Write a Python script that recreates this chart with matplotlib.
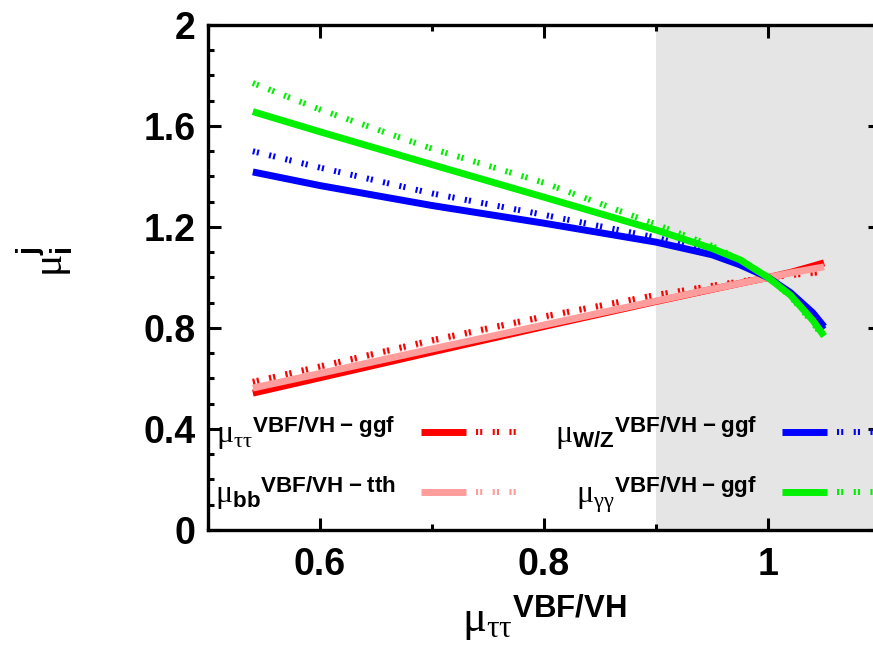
import matplotlib
matplotlib.use("Agg")
import matplotlib.pyplot as plt
from matplotlib.legend_handler import HandlerTuple

# mu ratios vs mu_tautau(VBF/VH)
x = [0.54, 0.6, 0.7, 0.8, 0.9, 0.95, 0.975, 1.0, 1.02, 1.04, 1.05]
tautau_solid = [0.542, 0.603, 0.705, 0.806, 0.905, 0.953, 0.977, 1.0, 1.02, 1.045, 1.058]
tautau_dot = [0.587, 0.648, 0.752, 0.846, 0.931, 0.967, 0.984, 1.0, 1.01, 1.019, 1.023]
bb_solid = [0.562, 0.620, 0.717, 0.812, 0.907, 0.954, 0.977, 1.0, 1.018, 1.034, 1.042]
bb_dot = [0.583, 0.644, 0.747, 0.842, 0.928, 0.965, 0.983, 1.0, 1.008, 1.016, 1.02]
wz_solid = [1.418, 1.364, 1.285, 1.215, 1.14, 1.09, 1.05, 1.0, 0.94, 0.86, 0.805]
wz_dot = [1.50, 1.435, 1.333, 1.248, 1.158, 1.098, 1.055, 1.0, 0.935, 0.85, 0.795]
gg_solid = [1.657, 1.577, 1.447, 1.318, 1.188, 1.115, 1.07, 1.0, 0.93, 0.83, 0.768]
gg_dot = [1.77, 1.665, 1.51, 1.375, 1.21, 1.125, 1.07, 1.0, 0.925, 0.82, 0.76]

labels = [r'$\mathrm{\mu}_{\mathrm{\tau\tau}}{}^{\mathbf{VBF/VH\ {-}\ ggf}}$',
          r'$\mathrm{\mu}_{\mathbf{bb}}{}^{\mathbf{VBF/VH\ {-}\ tth}}$',
          r'$\mathrm{\mu}_{\mathbf{W/Z}}{}^{\mathbf{VBF/VH\ {-}\ ggf}}$',
          r'$\mathrm{\mu}_{\mathrm{\gamma\gamma}}{}^{\mathbf{VBF/VH\ {-}\ ggf}}$']
xticks = [0.6, 0.8, 1.0]
xtick_labels = ['0.6', '0.8', '1']
yticks = [0, 0.4, 0.8, 1.2, 1.6, 2.0]
ytick_labels = ['0', '0.4', '0.8', '1.2', '1.6', '2']

plt.rcParams['font.family'] = ['Liberation Sans', 'DejaVu Sans']
plt.rcParams['mathtext.fontset'] = 'custom'
plt.rcParams['mathtext.rm'] = 'Liberation Serif'
plt.rcParams['mathtext.it'] = 'Liberation Serif:italic'
plt.rcParams['mathtext.bf'] = 'Liberation Sans:bold'

fig = plt.figure(figsize=(8.73, 6.54), dpi=100)
# the right edge of the frame lies just outside the picture, as in the reference
ax = fig.add_axes([0.2383, 0.1896, 0.7698, 0.7722])
ax.axvspan(0.9, 1.1, color='#e5e5e5', lw=0, zorder=0)

dot = (0, (0.35, 0.35, 0.35, 1.75))
lw_s, lw_d = 5, 4.3
r1, = ax.plot(x, tautau_solid, color='#ff0000', lw=lw_s, solid_capstyle='butt')
r2, = ax.plot(x, tautau_dot, color='#ff0000', lw=lw_d, ls=dot)
p1, = ax.plot(x, bb_solid, color='#ff9c9c', lw=lw_s, solid_capstyle='butt')
p2, = ax.plot(x, bb_dot, color='#ff9c9c', lw=lw_d, ls=dot, zorder=1.9)
b1, = ax.plot(x, wz_solid, color='#0000ff', lw=lw_s, solid_capstyle='butt')
b2, = ax.plot(x, wz_dot, color='#0000ff', lw=lw_d, ls=dot)
g1, = ax.plot(x, gg_solid, color='#00f000', lw=lw_s, solid_capstyle='butt')
g2, = ax.plot(x, gg_dot, color='#00f000', lw=lw_d, ls=dot)

ax.set_xlim(0.5, 1.1)
ax.set_ylim(0, 2)
ax.set_xticks(xticks)
ax.set_xticklabels(xtick_labels)
ax.set_yticks(yticks)
ax.set_yticklabels(ytick_labels)
ax.set_xticks([0.5, 0.7, 0.9, 1.1], minor=True)
ax.set_yticks([i / 10 for i in range(21)], minor=True)
ax.tick_params(which='both', direction='in', top=True, right=True, width=2.2)
ax.tick_params(which='major', length=9, labelsize=27)
ax.tick_params(which='minor', length=4.5)
ax.tick_params(axis='x', pad=12)
ax.tick_params(axis='y', pad=9)
for lab in ax.get_xticklabels() + ax.get_yticklabels():
    lab.set_fontweight('bold')
for s in ax.spines.values():
    s.set_linewidth(2.4)

leg = ax.legend([(r1, r2), (p1, p2), (b1, b2), (g1, g2)], labels,
                handler_map={tuple: HandlerTuple(ndivide=None, pad=0.31)},
                ncol=2, markerfirst=False, frameon=False, fontsize=23,
                handlelength=3.13, handletextpad=0.78, columnspacing=1.07,
                labelspacing=0.7, borderpad=0, borderaxespad=0,
                loc='upper left', bbox_to_anchor=(0.01, 0.229))

fig.text(0.052, 0.6, r'$\mathrm{\mu}_{\mathbf{i}}^{\mathbf{j}}$', rotation=90,
         fontsize=30, ha='center', va='center')
fig.text(0.623, 0.055, r'$\mathrm{\mu}_{\mathrm{\tau\tau}}{}^{\mathbf{VBF/VH}}$',
         fontsize=32, ha='center', va='center')

fig.savefig('out.png', dpi=100)
